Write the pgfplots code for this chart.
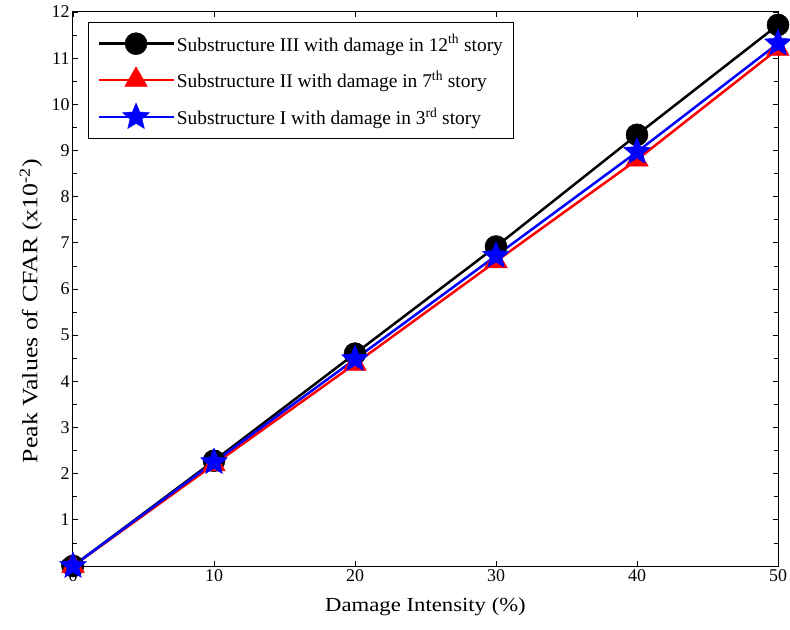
\documentclass[border=0pt]{standalone}
\usepackage{fontspec}
\setmainfont{Liberation Serif}
\newfontfamily\xlabfont[FakeStretch=1.14]{Liberation Serif}
\newfontfamily\ylabfont[FakeStretch=1.18]{Liberation Serif}
\usepackage{pgfplots}
\pgfplotsset{compat=1.18}

% filled five-pointed star
\pgfdeclareplotmark{fstar}{%
  \pgfpathmoveto{\pgfpointpolar{90}{\pgfplotmarksize}}%
  \foreach \k in {1,...,4}{%
    \pgfpathlineto{\pgfpointpolar{90+72*\k-36}{0.45\pgfplotmarksize}}%
    \pgfpathlineto{\pgfpointpolar{90+72*\k}{\pgfplotmarksize}}%
  }%
  \pgfpathlineto{\pgfpointpolar{54}{0.45\pgfplotmarksize}}%
  \pgfpathclose
  \pgfusepathqfillstroke}

\begin{document}
\begin{tikzpicture}
  \begin{axis}[
    name=ax,
    scale only axis,
    width=705bp, height=554bp,
    xmin=0, xmax=50, ymin=0, ymax=12,
    xtick={0,10,...,50},
    ytick={0,1,...,12},
    minor y tick num=1,
    tick align=inside,
    major tick length=5bp,
    minor tick length=4bp,
    tick style={black, line width=0.8bp},
    axis line style={line width=1bp},
    xlabel={\xlabfont Damage Intensity (\%)},
    ylabel={\ylabfont Peak Values of CFAR (x10\textsuperscript{-2})},
    /pgf/number format/assume math mode=true,
    tick label style={font=\fontsize{18}{21}\selectfont},
    xlabel style={font=\fontsize{20}{24}\selectfont,
      at={(axis description cs:0.5,-0.074)}, anchor=center},
    ylabel style={font=\fontsize{22}{26}\selectfont,
      at={(axis description cs:-0.0596,0.46)}, anchor=center},
    clip=false,
    legend cell align=left,
    legend style={
      at={(0.021,0.982)}, anchor=north west,
      draw=black, line width=1bp,
      font=\fontsize{19.5}{23}\selectfont,
      row sep=12bp, inner xsep=9bp, inner ysep=10bp,
      /tikz/every even column/.append style={column sep=4bp}},
    legend image code/.code={
      \draw[mark repeat=2,mark phase=2,#1]
        plot coordinates {(0bp,0bp) (37.5bp,0bp) (75bp,0bp)};},
  ]
    \addplot[black, line width=2.5bp, mark=*, mark size=11bp,
      mark options={solid, fill=black, line width=0.5bp}]
      coordinates {(0,0) (10,2.28) (20,4.60) (30,6.92) (40,9.34) (50,11.72)};
    \addlegendentry{Substructure III with damage in 12\textsuperscript{th} story}

    \addplot[red, line width=2.5bp, mark=triangle*, mark size=13bp,
      mark options={solid, fill=red, line width=0.5bp}]
      coordinates {(0,0) (10,2.20) (20,4.38) (30,6.60) (40,8.80) (50,11.20)};
    \addlegendentry{Substructure II with damage in 7\textsuperscript{th} story}

    \addplot[blue, line width=2.5bp, mark=fstar, mark size=14bp,
      mark options={solid, fill=blue, line width=0.5bp}]
      coordinates {(0,0) (10,2.25) (20,4.48) (30,6.72) (40,8.97) (50,11.32)};
    \addlegendentry{Substructure I with damage in 3\textsuperscript{rd} story}
  \end{axis}
  \pgfresetboundingbox
  \path ([xshift=-73bp,yshift=-64bp]ax.south west)
    rectangle ([xshift=12bp,yshift=12bp]ax.north east);
\end{tikzpicture}
\end{document}
